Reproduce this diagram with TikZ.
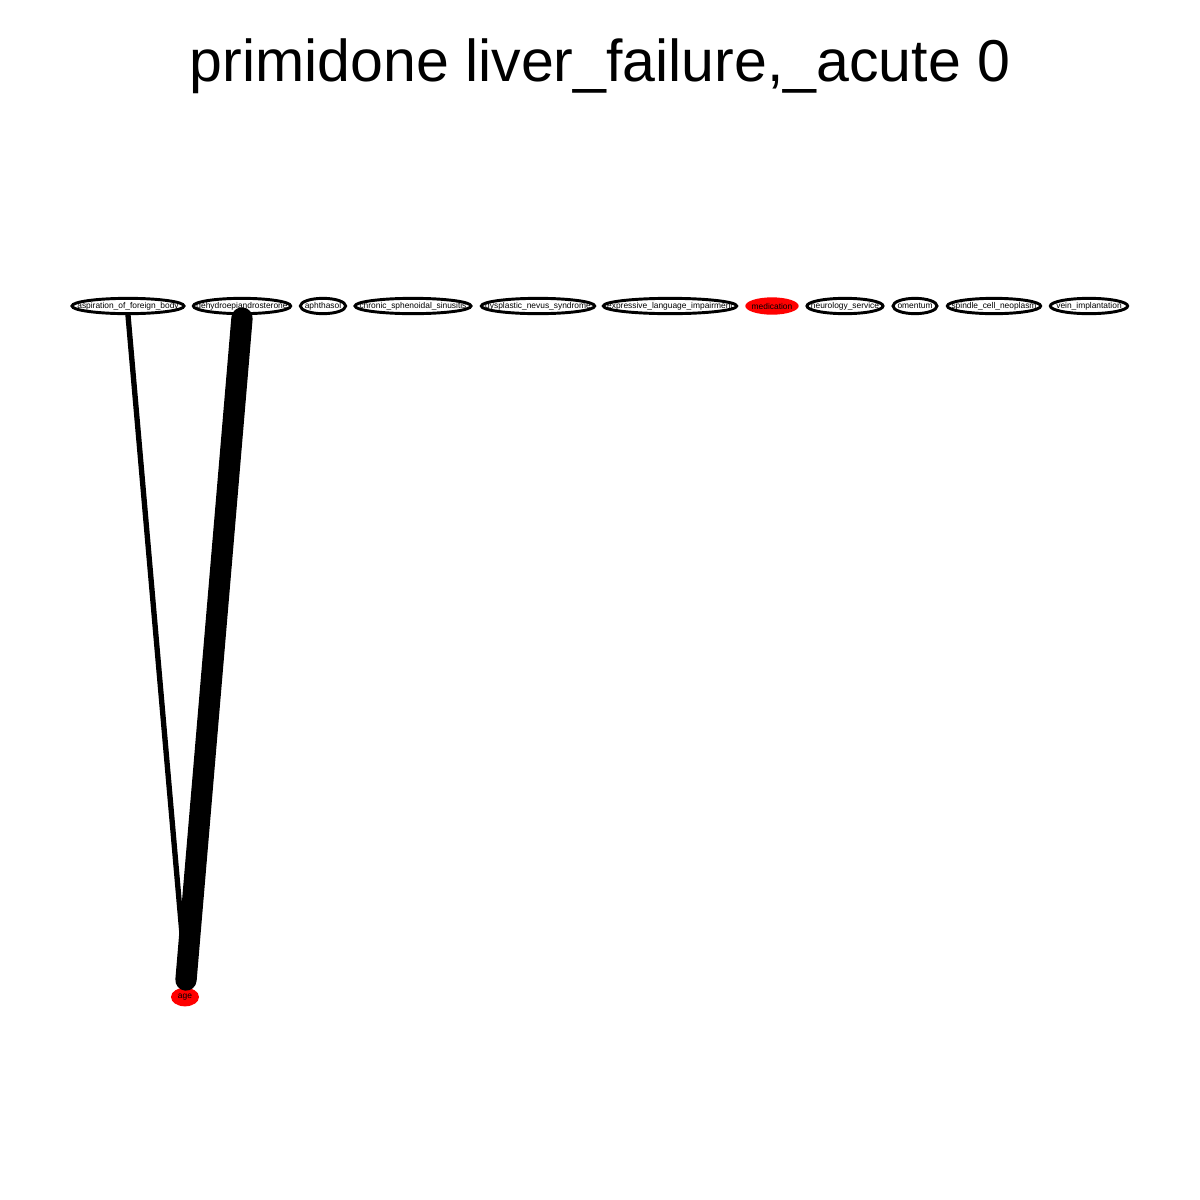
\documentclass[tikz,border=0pt]{standalone}
\usepackage{fontspec}
\setmainfont{Liberation Sans}
\usetikzlibrary{shapes.geometric}
\newcommand{\zlbl}[1]{\makebox[0pt][c]{#1}}
\begin{document}
\begin{tikzpicture}[x=0.75pt,y=-0.75pt,
  nd/.style={ellipse,draw=black,line width=2.2pt,inner sep=0pt,minimum height=11.5pt,font=\fontsize{6.3}{6.3}\selectfont},
  rednd/.style={ellipse,fill=red,draw=none,inner sep=0pt,minimum height=13pt,font=\fontsize{6.3}{6.3}\selectfont},
  edge/.style={draw=black,line cap=round}]
\useasboundingbox[fill=white] (0,0) rectangle (1200,1200);
\node[font=\fontsize{44.3}{46}\selectfont] (title) at (600,66) {primidone liver\_failure,\_acute 0};
\node[nd,minimum width=84pt] (asp) at (128,306) {\zlbl{aspiration\_of\_foreign\_body}};
\node[nd,minimum width=73pt] (dhea) at (242,306) {\zlbl{dehydroepiandrosterone}};
\node[nd,minimum width=34pt] (aph) at (323,306) {\zlbl{aphthasol}};
\node[nd,minimum width=87pt] (chr) at (413,306) {\zlbl{chronic\_sphenoidal\_sinusitis}};
\node[nd,minimum width=85pt] (dys) at (538,306) {\zlbl{dysplastic\_nevus\_syndrome}};
\node[nd,minimum width=100pt] (exp) at (670,306) {\zlbl{expressive\_language\_impairment}};
\node[rednd,minimum width=40pt] (med) at (772,306) {\zlbl{medication}};
\node[nd,minimum width=57pt] (neu) at (845,306) {\zlbl{neurology\_service}};
\node[nd,minimum width=33pt] (om) at (915,306) {\zlbl{omentum}};
\node[nd,minimum width=70pt] (spi) at (994,306) {\zlbl{spindle\_cell\_neoplasm}};
\node[nd,minimum width=58pt] (vein) at (1089,306) {\zlbl{vein\_implantation}};
\node[rednd,minimum width=21pt,minimum height=14pt] (age) at (185,997) {\zlbl{age}};
\coordinate (tip) at (186,980);
\draw[edge,line width=4pt] (asp.south) -- (tip);
\draw[edge,line width=16pt] (242,318) -- (tip);
\end{tikzpicture}
\end{document}
